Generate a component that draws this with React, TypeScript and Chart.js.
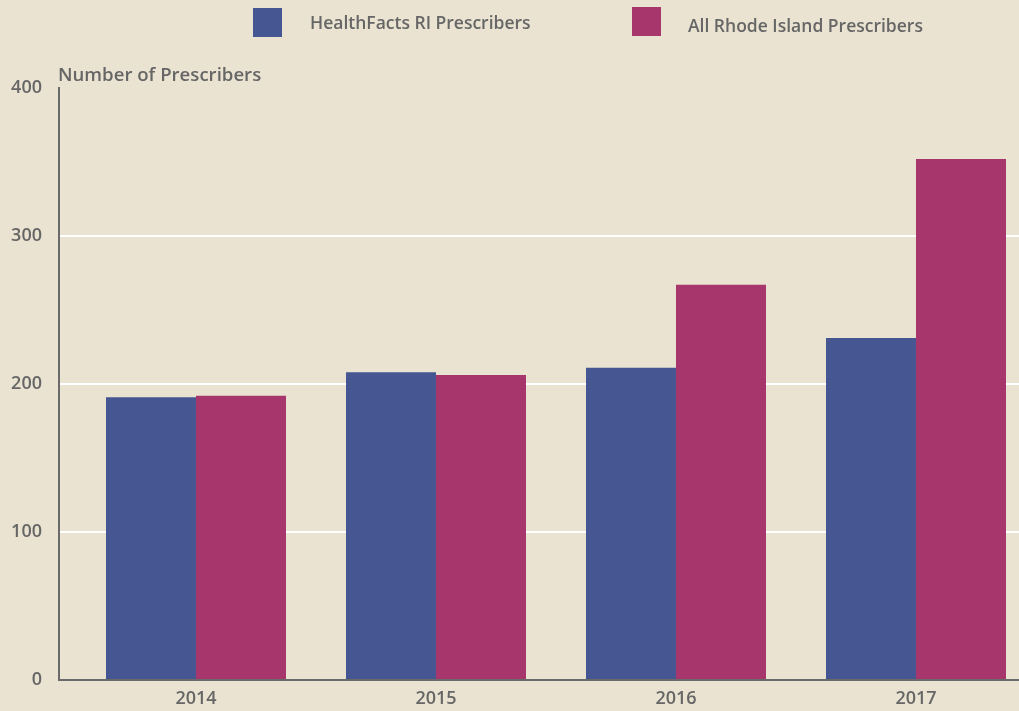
import React, { useEffect, useRef } from "react";
import { Chart, registerables } from "chart.js";

Chart.register(...registerables);

const categories = ["2014", "2015", "2016", "2017"];
const seriesNames = ["HealthFacts RI Prescribers", "All Rhode Island Prescribers"];
const healthFactsValues = [191, 208, 211, 231];
const allRhodeIslandValues = [192, 206, 267, 352];
const yTickValues = [0, 100, 200, 300, 400];
const yAxisTitle = "Number of Prescribers";

const BG = "#EAE3D1";
const TEXT = "#666666";
const AXIS = "#6a6a6a";
const BLUE = "#455692";
const PINK = "#A6366B";
const FONT_FAMILY = '"Open Sans", "DejaVu Sans", sans-serif';

const overlayPlugin = {
  id: "overlay",
  afterDraw(chart: any) {
    const ctx = chart.ctx;
    ctx.save();
    ctx.font = `600 18.6px ${FONT_FAMILY}`;
    ctx.fillStyle = TEXT;
    ctx.textAlign = "left";
    ctx.textBaseline = "alphabetic";
    ctx.fillText(yAxisTitle, 58, 81);

    ctx.font = `600 17.5px ${FONT_FAMILY}`;
    const legendItems = [
      { box: [253, 8], text: [310, 29] },
      { box: [632, 7], text: [688, 32] },
    ];
    chart.data.datasets.forEach((ds: any, i: number) => {
      const item = legendItems[i];
      ctx.fillStyle = ds.backgroundColor;
      ctx.fillRect(item.box[0], item.box[1], 29, 29);
      ctx.fillStyle = TEXT;
      ctx.fillText(ds.label, item.text[0], item.text[1]);
    });
    ctx.restore();
  },
};

export default function App() {
  const canvasRef = useRef<HTMLCanvasElement | null>(null);

  useEffect(() => {
    document.body.style.margin = "0";
    document.body.style.background = BG;
    const canvas = canvasRef.current;
    if (!canvas) return;
    const chart = new Chart(canvas, {
      type: "bar",
      data: {
        datasets: [
          {
            label: seriesNames[0],
            data: categories.map((_, i) => ({ x: i, y: healthFactsValues[i] })),
            backgroundColor: BLUE,
            borderWidth: 0,
            categoryPercentage: 0.75,
            barPercentage: 1.0,
          },
          {
            label: seriesNames[1],
            data: categories.map((_, i) => ({ x: i, y: allRhodeIslandValues[i] })),
            backgroundColor: PINK,
            borderWidth: 0,
            categoryPercentage: 0.75,
            barPercentage: 1.0,
          },
        ],
      },
      options: {
        responsive: false,
        animation: false,
        events: [],
        layout: { padding: { top: 88, left: 0, right: 0, bottom: 0 } },
        plugins: {
          legend: { display: false },
          title: { display: false },
          tooltip: { enabled: false },
        },
        scales: {
          x: {
            type: "linear",
            min: -0.5708,
            max: 3.4292,
            offset: false,
            z: 1,
            afterBuildTicks: (scale: any) => {
              scale.ticks = categories.map((_, i) => ({ value: i }));
            },
            afterFit: (scale: any) => {
              scale.height = 31;
            },
            grid: { display: false, offset: false, drawTicks: false },
            border: { display: true, color: AXIS, width: 2 },
            ticks: {
              autoSkip: false,
              maxRotation: 0,
              padding: 8,
              color: TEXT,
              font: { family: FONT_FAMILY, size: 18, weight: "600" },
              callback: (value: any) => categories[value] ?? "",
            },
          },
          y: {
            type: "linear",
            min: yTickValues[0],
            max: yTickValues[yTickValues.length - 1],
            afterBuildTicks: (scale: any) => {
              scale.ticks = yTickValues.map((v) => ({ value: v }));
            },
            afterFit: (scale: any) => {
              scale.width = 59;
            },
            grid: {
              drawTicks: false,
              lineWidth: 2,
              color: (c: any) =>
                c.tick && (c.tick.value === yTickValues[0] || c.tick.value === yTickValues[yTickValues.length - 1])
                  ? "rgba(0,0,0,0)"
                  : "#ffffff",
            },
            border: { display: true, color: AXIS, width: 2 },
            ticks: {
              padding: 17,
              color: TEXT,
              font: { family: FONT_FAMILY, size: 18, weight: "600" },
            },
          },
        },
      },
      plugins: [overlayPlugin],
    } as any);
    return () => chart.destroy();
  }, []);

  return (
    <div style={{ position: "fixed", left: 0, top: 0, width: 1019, height: 711, background: BG, overflow: "hidden" }}>
      <canvas ref={canvasRef} width={1019} height={711} style={{ display: "block", width: 1019, height: 711 }} />
    </div>
  );
}
